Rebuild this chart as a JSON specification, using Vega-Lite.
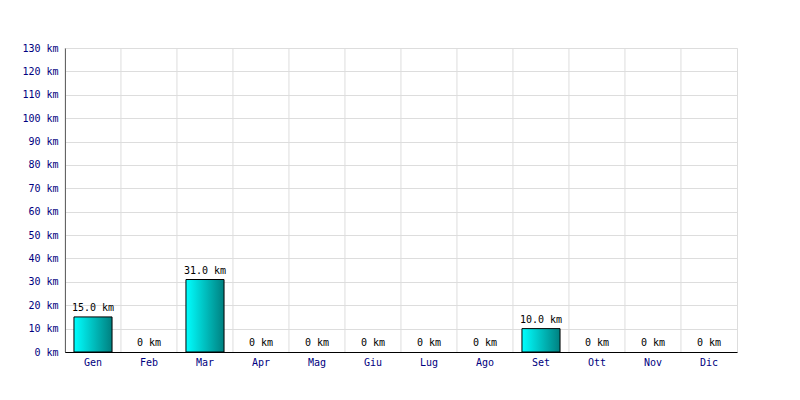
{
  "$schema": "https://vega.github.io/schema/vega-lite/v6.json",
  "width": 672,
  "height": 304,
  "autosize": {"type": "none"},
  "padding": {"left": 65, "top": 48, "right": 63, "bottom": 48},
  "background": "white",
  "config": {
    "view": {"stroke": "#dddddd", "strokeWidth": 1},
    "font": "DejaVu Sans Mono"
  },
  "data": {
    "values": [
      {"mese": "Gen", "km": 15, "label": "15.0 km"},
      {"mese": "Feb", "km": 0, "label": "0 km"},
      {"mese": "Mar", "km": 31, "label": "31.0 km"},
      {"mese": "Apr", "km": 0, "label": "0 km"},
      {"mese": "Mag", "km": 0, "label": "0 km"},
      {"mese": "Giu", "km": 0, "label": "0 km"},
      {"mese": "Lug", "km": 0, "label": "0 km"},
      {"mese": "Ago", "km": 0, "label": "0 km"},
      {"mese": "Set", "km": 10, "label": "10.0 km"},
      {"mese": "Ott", "km": 0, "label": "0 km"},
      {"mese": "Nov", "km": 0, "label": "0 km"},
      {"mese": "Dic", "km": 0, "label": "0 km"}
    ]
  },
  "encoding": {
    "x": {
      "field": "mese", "type": "nominal", "sort": null,
      "scale": {"paddingInner": 0.32, "paddingOuter": 0.16},
      "axis": {"title": null, "labelAngle": 0, "ticks": false, "grid": false, "domainColor": "black", "labelColor": "#000080", "labelFont": "DejaVu Sans Mono", "labelFontSize": 10, "labelPadding": 5}
    },
    "y": {
      "field": "km", "type": "quantitative",
      "scale": {"domain": [0, 130], "nice": false},
      "axis": {"title": null, "values": [0,10,20,30,40,50,60,70,80,90,100,110,120,130], "labelExpr": "datum.value + ' km'", "ticks": false, "labelPadding": 7, "gridColor": "#dddddd", "domainColor": "black", "labelColor": "#000080", "labelFont": "DejaVu Sans Mono", "labelFontSize": 10}
    }
  },
  "layer": [
    {
      "mark": {"type": "rule", "color": "#dddddd", "strokeWidth": 1, "xOffset": -9},
      "encoding": {
        "x": {"field": "mese", "type": "nominal", "sort": null, "bandPosition": 0},
        "y": {"value": 0},
        "y2": {"value": 304}
      }
    },
    {
      "transform": [{"filter": "datum.km > 0"}],
      "mark": {
        "type": "bar",
        "stroke": "black",
        "strokeWidth": 1,
        "fill": {
          "gradient": "linear", "x1": 0, "x2": 1, "y1": 0, "y2": 0,
          "stops": [
            {"offset": 0, "color": "#00ffff"},
            {"offset": 1, "color": "#008080"}
          ]
        }
      }
    },
    {
      "mark": {"type": "text", "dy": -9, "fontSize": 10, "font": "DejaVu Sans Mono", "color": "black"},
      "encoding": {"text": {"field": "label"}}
    }
  ]
}
